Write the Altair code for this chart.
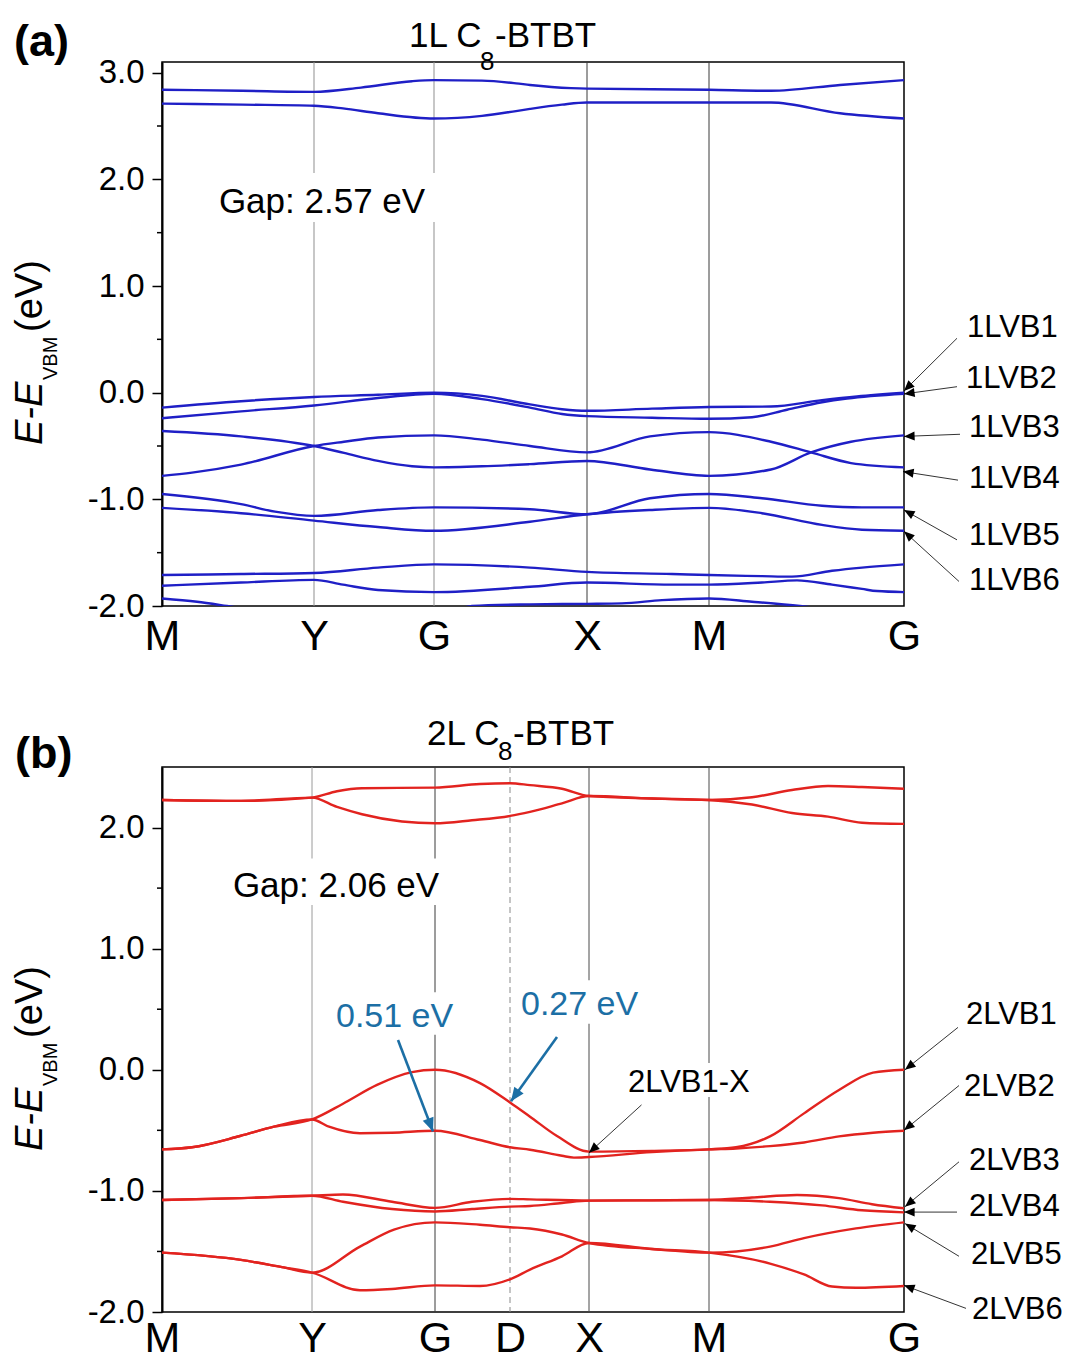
import math
import altair as alt
import pandas as pd

FONT = "Liberation Sans"
BLUE = "#1f1fc6"
RED = "#e2231f"
ANN = "#1c6fa5"

PLOT_W = 742
A_H = 544
B_H = 545
K_DOMAIN = [0.0, 7.42]
A_E_DOMAIN = [-2.0, 3.1]
B_E_DOMAIN = [-2.0, 2.5]
A_E_TICKS = [-2.0, -1.0, 0.0, 1.0, 2.0, 3.0]
A_E_MINOR = [-1.5, -0.5, 0.5, 1.5, 2.5]
B_E_TICKS = [-2.0, -1.0, 0.0, 1.0, 2.0]
B_E_MINOR = [-1.5, -0.5, 0.5, 1.5]

# ---- high-symmetry path ----
A_KPTS = [0.0, 1.52, 2.72, 4.25, 5.47, 7.42]
A_KLABELS = ["M", "Y", "G", "X", "M", "G"]
A_VLINES = [1.52, 2.72, 4.25, 5.47]
A_VLINE_COLORS = ["#8f8f8f", "#8f8f8f", "#3a3a3a", "#3a3a3a"]

B_KPTS = [0.0, 1.50, 2.73, 3.48, 4.27, 5.47, 7.42]
B_KLABELS = ["M", "Y", "G", "D", "X", "M", "G"]
B_VLINES = [1.50, 2.73, 4.27, 5.47]
B_VLINE_COLORS = ["#9a9a9a", "#3a3a3a", "#4a4a4a", "#4a4a4a"]
B_DASHED = [3.48]

# ---- panel (a): 1L C8-BTBT bands ----
A_CB1_K = [0, 0.8, 1.52, 1.99, 2.5, 2.72, 3.2, 3.54, 3.68, 4.09, 4.25, 5.47, 6.09, 6.78, 7.42]
A_CB1_E = [2.84, 2.83, 2.82, 2.86, 2.92, 2.93, 2.925, 2.90, 2.885, 2.855, 2.85, 2.84, 2.83, 2.885, 2.93]
A_CB2_K = [0, 0.8, 1.52, 1.81, 2.16, 2.72, 3.2, 3.54, 3.68, 4.0, 4.25, 5.47, 6.09, 6.78, 7.42]
A_CB2_E = [2.71, 2.70, 2.69, 2.665, 2.62, 2.57, 2.595, 2.64, 2.66, 2.70, 2.72, 2.72, 2.72, 2.62, 2.57]
A_VB1_K = [0, 0.79, 1.52, 2.16, 2.72, 3.2, 3.68, 4.0, 4.25, 4.9, 5.47, 6.09, 6.6, 6.95, 7.42]
A_VB1_E = [-0.14, -0.08, -0.04, -0.02, 0.0, -0.03, -0.11, -0.155, -0.17, -0.15, -0.135, -0.13, -0.07, -0.035, 0.0]
A_VB2_K = [0, 0.79, 1.52, 2.16, 2.72, 3.2, 3.68, 4.0, 4.25, 4.9, 5.47, 5.9, 6.25, 6.6, 6.85, 7.42]
A_VB2_E = [-0.24, -0.175, -0.12, -0.05, -0.01, -0.06, -0.14, -0.20, -0.22, -0.235, -0.245, -0.23, -0.16, -0.09, -0.055, -0.01]
A_VB3_K = [0, 0.79, 1.52, 1.82, 2.16, 2.5, 2.72, 3.2, 3.68, 4.25, 4.88, 5.47, 6.09, 6.49, 6.89, 7.42]
A_VB3_E = [-0.36, -0.41, -0.50, -0.565, -0.64, -0.69, -0.70, -0.69, -0.67, -0.64, -0.72, -0.78, -0.72, -0.56, -0.46, -0.40]
A_VB4_K = [0, 0.3, 0.79, 1.52, 1.82, 2.16, 2.72, 3.2, 3.68, 4.25, 4.88, 5.47, 6.09, 6.49, 6.89, 7.42]
A_VB4_E = [-0.78, -0.75, -0.675, -0.50, -0.46, -0.42, -0.40, -0.44, -0.50, -0.56, -0.41, -0.37, -0.46, -0.56, -0.66, -0.70]
A_VB5_K = [0, 0.79, 1.13, 1.52, 2.16, 2.72, 3.68, 4.25, 4.88, 5.47, 6.0, 6.6, 7.0, 7.42]
A_VB5_E = [-0.95, -1.045, -1.115, -1.155, -1.10, -1.075, -1.093, -1.14, -0.99, -0.95, -0.99, -1.06, -1.075, -1.075]
A_VB6_K = [0, 0.79, 1.52, 2.16, 2.72, 3.68, 4.25, 4.88, 5.47, 6.0, 6.6, 7.0, 7.42]
A_VB6_E = [-1.08, -1.13, -1.20, -1.26, -1.295, -1.21, -1.14, -1.10, -1.08, -1.13, -1.24, -1.285, -1.295]
A_VB7_K = [0, 0.79, 1.52, 2.16, 2.72, 3.68, 4.25, 5.1, 5.47, 6.0, 6.3, 6.7, 7.0, 7.42]
A_VB7_E = [-1.71, -1.70, -1.69, -1.64, -1.61, -1.64, -1.68, -1.70, -1.71, -1.72, -1.725, -1.67, -1.64, -1.61]
A_VB8_K = [0, 0.79, 1.52, 1.81, 2.16, 2.72, 3.68, 4.25, 5.1, 5.47, 6.0, 6.35, 6.7, 7.0, 7.15, 7.42]
A_VB8_E = [-1.81, -1.78, -1.755, -1.80, -1.85, -1.87, -1.82, -1.78, -1.80, -1.80, -1.78, -1.76, -1.80, -1.84, -1.86, -1.87]
A_VB9_K = [0, 0.35, 0.65, 1.0, 1.52, 2.72, 3.1, 3.68, 4.25, 4.6, 5.0, 5.47, 5.9, 6.38, 6.8, 7.42]
A_VB9_E = [-1.93, -1.96, -2.0, -2.05, -2.09, -2.1, -2.0, -1.985, -1.98, -1.975, -1.945, -1.93, -1.96, -2.0, -2.05, -2.1]

# ---- panel (b): 2L C8-BTBT bands ----
B_CB1_K = [0, 0.79, 1.50, 1.75, 2.0, 2.73, 3.18, 3.48, 3.68, 4.0, 4.27, 4.9, 5.47, 5.9, 6.3, 6.66, 7.0, 7.42]
B_CB1_E = [2.228, 2.22, 2.247, 2.30, 2.325, 2.33, 2.36, 2.366, 2.35, 2.32, 2.26, 2.24, 2.228, 2.25, 2.31, 2.343, 2.335, 2.32]
B_CB2_K = [0, 0.79, 1.50, 1.75, 2.0, 2.4, 2.73, 3.1, 3.48, 3.68, 4.0, 4.27, 4.9, 5.47, 5.9, 6.3, 6.66, 7.0, 7.42]
B_CB2_E = [2.228, 2.22, 2.247, 2.17, 2.11, 2.05, 2.035, 2.06, 2.096, 2.13, 2.20, 2.26, 2.24, 2.228, 2.19, 2.12, 2.09, 2.04, 2.03]
B_VB1_K = [0, 0.30, 0.78, 1.12, 1.50, 1.81, 2.15, 2.5, 2.73, 3.18, 3.48, 3.68, 3.95, 4.27, 4.9, 5.47, 5.74, 6.08, 6.42, 6.77, 7.11, 7.42]
B_VB1_E = [-0.657, -0.64, -0.547, -0.47, -0.41, -0.28, -0.125, -0.02, 0.0, -0.11, -0.27, -0.387, -0.547, -0.676, -0.67, -0.657, -0.64, -0.55, -0.36, -0.167, -0.024, 0.0]
B_VB2_K = [0, 0.30, 0.78, 1.12, 1.50, 1.67, 1.98, 2.3, 2.73, 3.18, 3.48, 3.68, 4.0, 4.12, 4.27, 4.9, 5.47, 5.74, 6.08, 6.42, 6.77, 7.11, 7.42]
B_VB2_E = [-0.657, -0.64, -0.547, -0.47, -0.41, -0.47, -0.524, -0.52, -0.503, -0.58, -0.64, -0.66, -0.71, -0.725, -0.72, -0.68, -0.657, -0.65, -0.63, -0.60, -0.55, -0.52, -0.503]
B_VB3_K = [0, 0.79, 1.50, 1.81, 2.3, 2.73, 3.1, 3.48, 3.68, 4.27, 4.9, 5.47, 5.9, 6.35, 6.77, 7.1, 7.42]
B_VB3_E = [-1.075, -1.06, -1.04, -1.03, -1.09, -1.14, -1.09, -1.066, -1.07, -1.08, -1.078, -1.075, -1.055, -1.034, -1.06, -1.11, -1.144]
B_VB4_K = [0, 0.79, 1.50, 1.81, 2.3, 2.73, 3.1, 3.48, 3.68, 4.0, 4.27, 4.9, 5.47, 6.08, 6.6, 7.0, 7.42]
B_VB4_E = [-1.075, -1.06, -1.04, -1.09, -1.15, -1.17, -1.15, -1.13, -1.125, -1.10, -1.08, -1.078, -1.075, -1.09, -1.12, -1.16, -1.177]
B_VB5_K = [0, 0.79, 1.2, 1.50, 1.98, 2.32, 2.73, 3.18, 3.48, 3.68, 4.0, 4.27, 4.9, 5.47, 6.08, 6.42, 6.94, 7.42]
B_VB5_E = [-1.51, -1.57, -1.63, -1.675, -1.46, -1.32, -1.26, -1.28, -1.30, -1.31, -1.36, -1.43, -1.48, -1.51, -1.46, -1.39, -1.31, -1.26]
B_VB6_K = [0, 0.79, 1.2, 1.50, 1.98, 2.3, 2.73, 3.18, 3.48, 3.68, 4.0, 4.27, 4.9, 5.47, 6.08, 6.42, 6.70, 6.94, 7.42]
B_VB6_E = [-1.51, -1.57, -1.63, -1.675, -1.82, -1.81, -1.78, -1.785, -1.73, -1.65, -1.54, -1.43, -1.48, -1.51, -1.60, -1.69, -1.79, -1.80, -1.785]

# ---- annotations (a) ----
A_GAP_TEXT = "Gap: 2.57 eV"
A_GAP_K, A_GAP_E = 1.60, 1.685
A_GAP_BOX = [0.52, 2.78, 1.60, 2.06]
A_LAB_TXT = ["1LVB1", "1LVB2", "1LVB3", "1LVB4", "1LVB5", "1LVB6"]
A_LAB_K = [8.05, 8.04, 8.07, 8.07, 8.07, 8.07]
A_LAB_E = [0.52, 0.04, -0.42, -0.89, -1.43, -1.85]
A_ARR_K0 = [7.95, 7.95, 7.98, 7.96, 7.95, 7.97]
A_ARR_E0 = [0.51, 0.056, -0.39, -0.82, -1.38, -1.77]
A_ARR_K1 = [7.42, 7.42, 7.42, 7.41, 7.42, 7.42]
A_ARR_E1 = [0.016, -0.012, -0.41, -0.74, -1.10, -1.30]

# ---- annotations (b) ----
B_GAP_TEXT = "Gap: 2.06 eV"
B_GAP_K, B_GAP_E = 1.74, 1.43
B_BOXES_K1 = [0.60, 1.70, 3.55, 4.62]
B_BOXES_K2 = [2.80, 3.05, 4.95, 5.95]
B_BOXES_E1 = [1.36, 0.29, 0.38, -0.225]
B_BOXES_E2 = [1.745, 0.64, 0.74, 0.055]
B_LAB_TXT = ["2LVB1", "2LVB2", "2LVB3", "2LVB4", "2LVB5", "2LVB6", "2LVB1-X"]
B_LAB_K = [8.04, 8.02, 8.07, 8.07, 8.09, 8.10, 4.66]
B_LAB_E = [0.38, -0.22, -0.83, -1.21, -1.60, -2.06, -0.18]
B_ARR_K0 = [7.96, 7.97, 7.97, 7.95, 7.97, 8.04, 4.795]
B_ARR_E0 = [0.35, -0.13, -0.76, -1.175, -1.54, -1.97, -0.29]
B_ARR_K1 = [7.43, 7.42, 7.43, 7.42, 7.43, 7.42, 4.27]
B_ARR_E1 = [0.0, -0.50, -1.13, -1.175, -1.27, -1.78, -0.685]
B_BLUE_TXT = ["0.51 eV", "0.27 eV"]
B_BLUE_K = [1.74, 3.59]
B_BLUE_E = [0.35, 0.45]
B_BLUE_K0 = [2.36, 3.95]
B_BLUE_E0 = [0.246, 0.27]
B_BLUE_K1 = [2.71, 3.49]
B_BLUE_E1 = [-0.51, -0.26]

HEAD = "M0,0L-0.42,1L0.42,1Z"


def label_expr(kpts, labels):
    expr = "'" + labels[-1] + "'"
    for i in range(len(kpts) - 2, -1, -1):
        mid = (kpts[i] + kpts[i + 1]) / 2
        expr = "datum.value < %.3f ? '%s' : (%s)" % (mid, labels[i], expr)
    return expr


def make_enc(kpts, klabels, edom, eticks, xpad):
    xs = alt.Scale(domain=K_DOMAIN, nice=False, zero=False)
    ys = alt.Scale(domain=edom, nice=False, zero=False)
    xax = alt.Axis(values=kpts, labelExpr=label_expr(kpts, klabels), ticks=False,
                   grid=False, domain=False, labelFont=FONT, labelFontSize=43,
                   labelColor="black", labelPadding=xpad, labelFlush=False,
                   labelOverlap=False, labelBaseline="top", title=None)
    yax = alt.Axis(values=eticks,
                   labelExpr="datum.value < 0 ? '-' + format(-datum.value, '.1f') : format(datum.value, '.1f')",
                   ticks=True, tickSize=10, tickWidth=1.5, tickColor="black",
                   domain=True, domainColor="black", domainWidth=2, grid=False,
                   labelFont=FONT, labelFontSize=33, labelColor="black",
                   labelPadding=8, labelOverlap=False, title=None)

    def X(f):
        return alt.X(f, type="quantitative", scale=xs, axis=xax)

    def Y(f):
        return alt.Y(f, type="quantitative", scale=ys, axis=yax)
    return X, Y


def band_frame(bands):
    rows = []
    for name, ks, es in bands:
        for i, (k, e) in enumerate(zip(ks, es)):
            rows.append({"band": name, "i": i, "k": k, "E": e})
    return pd.DataFrame(rows)


def arrow_frame(k0, e0, k1, e1, pxk, pxe):
    angs = []
    for a, b, c, d in zip(k0, e0, k1, e1):
        dx = (c - a) * pxk
        dy = -(d - b) * pxe
        angs.append(math.degrees(math.atan2(dx, -dy)) % 360)
    return pd.DataFrame({"k": k0, "E": e0, "k2": k1, "E2": e1, "ang": angs})


def ptext(txt, px, py, size, **kw):
    return alt.Chart(pd.DataFrame({"t": [txt]})).mark_text(
        font=FONT, fontSize=size, align="left", baseline="alphabetic", color="black", **kw
    ).encode(x=alt.value(px), y=alt.value(py), text="t:N")


def arrows(X, Y, df, color, width, size):
    line = alt.Chart(df).mark_rule(color=color, strokeWidth=width).encode(
        x=X("k"), y=Y("E"), x2="k2", y2="E2")
    head = alt.Chart(df).mark_point(shape=HEAD, filled=True, size=size, color=color,
                                    opacity=1, strokeWidth=0).encode(
        x=X("k2"), y=Y("E2"), angle=alt.Angle("ang:Q", scale=None))
    return [line, head]


def title_layers(first, sub, rest, x0, y0, xs, ys, xr):
    return [
        ptext(first, x0, y0, 35),
        ptext(sub, xs, ys, 26),
        ptext(rest, xr, y0, 35),
    ]


def ytitle_layers(dy):
    return [
        ptext("E-E", -120, 383 + dy, 38, angle=270, fontStyle="italic"),
        ptext("VBM", -105, 318 + dy, 20, angle=270),
        ptext("(eV)", -120, 270 + dy, 38, angle=270),
    ]


# ================= panel (a) =================
XA, YA = make_enc(A_KPTS, A_KLABELS, A_E_DOMAIN, A_E_TICKS, 9)
pxk = PLOT_W / (K_DOMAIN[1] - K_DOMAIN[0])
pxe_a = A_H / (A_E_DOMAIN[1] - A_E_DOMAIN[0])
pxe_b = B_H / (B_E_DOMAIN[1] - B_E_DOMAIN[0])

a_bands = band_frame([
    ("cb1", A_CB1_K, A_CB1_E), ("cb2", A_CB2_K, A_CB2_E),
    ("vb1", A_VB1_K, A_VB1_E), ("vb2", A_VB2_K, A_VB2_E),
    ("vb3", A_VB3_K, A_VB3_E), ("vb4", A_VB4_K, A_VB4_E),
    ("vb5", A_VB5_K, A_VB5_E), ("vb6", A_VB6_K, A_VB6_E),
    ("vb7", A_VB7_K, A_VB7_E), ("vb8", A_VB8_K, A_VB8_E),
    ("vb9", A_VB9_K, A_VB9_E),
])

a_layers = [
    alt.Chart(pd.DataFrame({"k": A_VLINES, "c": A_VLINE_COLORS})).mark_rule(strokeWidth=1).encode(
        x=XA("k"), color=alt.Color("c:N", scale=None, legend=None)),
    alt.Chart(pd.DataFrame({"k": [A_GAP_BOX[0]], "k2": [A_GAP_BOX[1]], "E": [A_GAP_BOX[2]], "E2": [A_GAP_BOX[3]]}))
    .mark_rect(color="white").encode(x=XA("k"), x2="k2", y=YA("E"), y2="E2"),
    alt.Chart(a_bands).mark_line(clip=True, interpolate="monotone", strokeWidth=2.4, color=BLUE).encode(
        x=XA("k"), y=YA("E"), detail="band:N", order="i:Q"),
    alt.Chart(pd.DataFrame({"E": A_E_MINOR})).mark_rule(color="black", strokeWidth=1.5).encode(
        x=alt.value(-5), x2=alt.value(0), y=YA("E")),
    alt.Chart(pd.DataFrame({"k": [A_GAP_K], "E": [A_GAP_E], "t": [A_GAP_TEXT]})).mark_text(
        font=FONT, fontSize=35, align="center", baseline="alphabetic", color="black").encode(
        x=XA("k"), y=YA("E"), text="t:N"),
    alt.Chart(pd.DataFrame({"k": A_LAB_K, "E": A_LAB_E, "t": A_LAB_TXT})).mark_text(
        font=FONT, fontSize=31, align="left", baseline="alphabetic", color="black").encode(
        x=XA("k"), y=YA("E"), text="t:N"),
]
a_layers += arrows(XA, YA, arrow_frame(A_ARR_K0, A_ARR_E0, A_ARR_K1, A_ARR_E1, pxk, pxe_a), "black", 0.8, 450)
a_layers += [ptext("(a)", -148, -6, 45, fontWeight="bold")]
a_layers += title_layers("1L C", "8", "-BTBT", 247, -15, 318, 8, 333)
a_layers += ytitle_layers(0)

panel_a = alt.layer(*a_layers).properties(width=PLOT_W, height=A_H)

# ================= panel (b) =================
XB, YB = make_enc(B_KPTS, B_KLABELS, B_E_DOMAIN, B_E_TICKS, 5)

b_bands = band_frame([
    ("cb1", B_CB1_K, B_CB1_E), ("cb2", B_CB2_K, B_CB2_E),
    ("vb1", B_VB1_K, B_VB1_E), ("vb2", B_VB2_K, B_VB2_E),
    ("vb3", B_VB3_K, B_VB3_E), ("vb4", B_VB4_K, B_VB4_E),
    ("vb5", B_VB5_K, B_VB5_E), ("vb6", B_VB6_K, B_VB6_E),
])

b_layers = [
    alt.Chart(pd.DataFrame({"k": B_VLINES, "c": B_VLINE_COLORS})).mark_rule(strokeWidth=1).encode(
        x=XB("k"), color=alt.Color("c:N", scale=None, legend=None)),
    alt.Chart(pd.DataFrame({"k": B_DASHED})).mark_rule(strokeWidth=1, color="#8a8a8a", strokeDash=[6, 4]).encode(
        x=XB("k")),
    alt.Chart(pd.DataFrame({"k": B_BOXES_K1, "k2": B_BOXES_K2, "E": B_BOXES_E1, "E2": B_BOXES_E2}))
    .mark_rect(color="white").encode(x=XB("k"), x2="k2", y=YB("E"), y2="E2"),
    alt.Chart(b_bands).mark_line(clip=True, interpolate="monotone", strokeWidth=2.4, color=RED).encode(
        x=XB("k"), y=YB("E"), detail="band:N", order="i:Q"),
    alt.Chart(pd.DataFrame({"E": B_E_MINOR})).mark_rule(color="black", strokeWidth=1.5).encode(
        x=alt.value(-5), x2=alt.value(0), y=YB("E")),
    alt.Chart(pd.DataFrame({"k": [B_GAP_K], "E": [B_GAP_E], "t": [B_GAP_TEXT]})).mark_text(
        font=FONT, fontSize=35, align="center", baseline="alphabetic", color="black").encode(
        x=XB("k"), y=YB("E"), text="t:N"),
    alt.Chart(pd.DataFrame({"k": B_LAB_K, "E": B_LAB_E, "t": B_LAB_TXT})).mark_text(
        font=FONT, fontSize=31, align="left", baseline="alphabetic", color="black").encode(
        x=XB("k"), y=YB("E"), text="t:N"),
    alt.Chart(pd.DataFrame({"k": B_BLUE_K, "E": B_BLUE_E, "t": B_BLUE_TXT})).mark_text(
        font=FONT, fontSize=34, align="left", baseline="alphabetic", color=ANN).encode(
        x=XB("k"), y=YB("E"), text="t:N"),
]
b_layers += arrows(XB, YB, arrow_frame(B_ARR_K0, B_ARR_E0, B_ARR_K1, B_ARR_E1, pxk, pxe_b), "black", 0.8, 450)
b_layers += arrows(XB, YB, arrow_frame(B_BLUE_K0, B_BLUE_E0, B_BLUE_K1, B_BLUE_E1, pxk, pxe_b), ANN, 2.6, 750)
b_layers += [ptext("(b)", -147, 1, 45, fontWeight="bold")]
b_layers += title_layers("2L C", "8", "-BTBT", 265, -22, 336, -7, 351)
b_layers += ytitle_layers(1)

panel_b = alt.layer(*b_layers).properties(width=PLOT_W, height=B_H)

chart = alt.vconcat(panel_a, panel_b, spacing=57).properties(
    padding={"left": 11, "top": 18, "right": 5, "bottom": 2},
    background="white",
).configure_view(stroke="black", strokeWidth=1.5)

chart.save("out.html", embed_options={"renderer": "svg", "actions": False})
